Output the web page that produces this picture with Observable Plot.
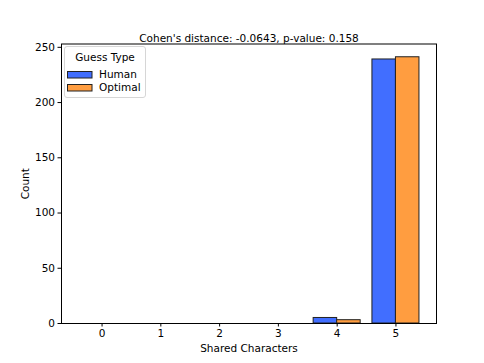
<!DOCTYPE html>
<html>
<head>
<meta charset="utf-8">
<script src="https://cdn.jsdelivr.net/npm/d3@7"></script>
<script src="https://cdn.jsdelivr.net/npm/@observablehq/plot@0.6"></script>
<style>
  body { margin: 0; background: #fff; }
  #chart svg { display: block; }
</style>
</head>
<body>
<div id="chart"></div>
<script>
const categories = [0, 1, 2, 3, 4, 5];
const humanCounts = [0, 0, 0, 0, 5, 239];
const optimalCounts = [0, 0, 0, 0, 3, 241];
const seriesNames = ["Human", "Optimal"];
const seriesColors = ["#416eff", "#ff9d40"];
const yTicks = [0, 50, 100, 150, 200, 250];
const titleText = "Cohen's distance: -0.0643, p-value: 0.158";
const legendTitle = "Guess Type";

const barW = 0.4;
const rows = [];
categories.forEach((c, i) => {
  rows.push({cat: c, type: "Human", count: humanCounts[i], x1: c - barW, x2: c});
  rows.push({cat: c, type: "Optimal", count: optimalCounts[i], x1: c, x2: c + barW});
});
const nonZero = rows.filter(d => d.count > 0);
const zero = rows.filter(d => d.count === 0);

const font = "DejaVu Sans, sans-serif";

const chart = Plot.plot({
  width: 484,
  height: 363,
  marginLeft: 61,
  marginRight: 48,
  marginTop: 43.5,
  marginBottom: 40,
  style: {fontFamily: font, fontSize: "10.5px", color: "#000", background: "#fff"},
  x: {domain: [-0.69, 5.69], ticks: categories, tickFormat: d => String(d), tickSize: 3.5, tickPadding: 3, label: "Shared Characters", labelAnchor: "center", labelArrow: "none", labelOffset: 28},
  y: {domain: [0, 253], ticks: yTicks, tickSize: 3.5, tickPadding: 3, label: "Count", labelAnchor: "center", labelArrow: "none", labelOffset: 40},
  color: {domain: seriesNames, range: seriesColors},
  marks: [
    Plot.ruleY(zero, {y: "count", x1: "x1", x2: "x2", stroke: "#888", strokeWidth: 1}),
    Plot.rect(nonZero, {x1: "x1", x2: "x2", y1: 0, y2: "count", fill: "type", stroke: "#222", strokeWidth: 1}),
    Plot.frame({stroke: "#000", strokeWidth: 1}),
    Plot.text([titleText], {frameAnchor: "top", dy: -9, text: d => d, fontSize: 10.5, fill: "#000"})
  ]
});

document.getElementById("chart").appendChild(chart);

// Legend inside plot area, top-left (matplotlib style)
const svg = d3.select(chart);
const lg = svg.append("g").attr("font-family", font).attr("font-size", "10.5px").attr("text-anchor", "start");
lg.append("rect").attr("x", 64.5).attr("y", 46.5).attr("width", 81).attr("height", 51)
  .attr("rx", 2.5).attr("fill", "#fff").attr("fill-opacity", 0.8).attr("stroke", "#d6d6d6").attr("stroke-width", 1);
lg.append("text").attr("x", 105).attr("y", 58).attr("text-anchor", "middle").attr("dominant-baseline", "middle").text(legendTitle);
seriesNames.forEach((name, i) => {
  const y = 71.5 + i * 13;
  lg.append("rect").attr("x", 67.5).attr("y", y).attr("width", 24.5).attr("height", 6.5)
    .attr("fill", seriesColors[i]).attr("stroke", "#222").attr("stroke-width", 1);
  lg.append("text").attr("x", 99).attr("y", y + 3.5).attr("text-anchor", "start").attr("dominant-baseline", "middle").text(name);
});
</script>
</body>
</html>
